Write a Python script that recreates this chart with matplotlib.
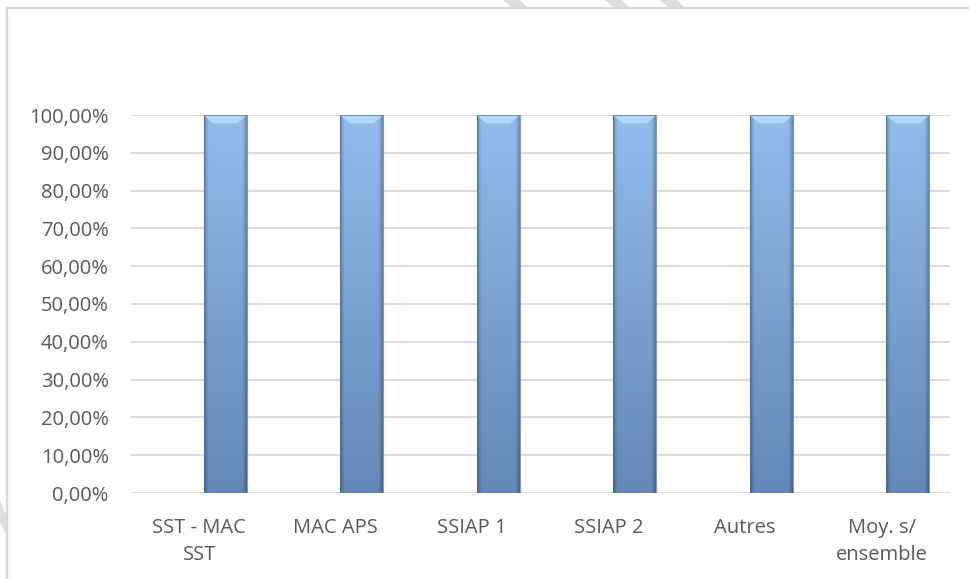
import matplotlib
matplotlib.use("Agg")
import matplotlib.pyplot as plt
import numpy as np
from matplotlib.patches import Polygon, Rectangle
from matplotlib.lines import Line2D

# data
categories = ["SST - MAC\nSST", "MAC APS", "SSIAP 1", "SSIAP 2", "Autres", "Moy. s/\nensemble"]
values = [1.0, 1.0, 1.0, 1.0, 1.0, 1.0]
y_ticks = [0.0, 0.1, 0.2, 0.3, 0.4, 0.5, 0.6, 0.7, 0.8, 0.9, 1.0]

W, H = 969, 579
plt.rcParams['font.family'] = ['Open Sans', 'DejaVu Sans']
txt_color = "#595959"
grid_color = "#d9d9d9"

fig = plt.figure(figsize=(W / 100, H / 100), dpi=100)
ax = fig.add_axes([131 / W, 1 - 493 / H, (950 - 131) / W, (493 - 115) / H])

# grid lines
for t in y_ticks:
    ax.axhline(t, color=grid_color, lw=1.3, zorder=1)

bar_w = 0.315
offset = 0.19
x = np.arange(len(categories))

# vertical gradient with darker edges
top_c = np.array([0.57, 0.74, 0.93])
bot_c = np.array([0.39, 0.53, 0.72])
ny, nx = 200, 60
v = np.linspace(0, 1, ny)[:, None]
hx = np.linspace(-1, 1, nx)[None, :]
edge = np.clip((np.abs(hx) - 0.8) / 0.2, 0, 1)
img = np.zeros((ny, nx, 3))
for k in range(3):
    base = bot_c[k] + (top_c[k] - bot_c[k]) * v
    img[:, :, k] = base * (1 - 0.25 * edge)

bars = ax.bar(x + offset, values, width=bar_w, color="none", edgecolor="none", zorder=2)
for b in bars:
    x0, w, h = b.get_x(), b.get_width(), b.get_height()
    im = ax.imshow(img, extent=[x0, x0 + w, 0, h], origin="lower", aspect="auto", zorder=3)
    clip = Rectangle((x0, 0), w, h, transform=ax.transData)
    im.set_clip_path(clip)
    # top bevel
    bev = 0.022
    ax.add_patch(Polygon([[x0, h], [x0 + w, h], [x0 + w - w * 0.22, h - bev], [x0 + w * 0.22, h - bev]],
                         closed=True, facecolor="#b5d8f7", edgecolor="none", zorder=4))
    ax.add_patch(Rectangle((x0, 0), w, h, facecolor="none", edgecolor="#4f6f99", lw=0.8, alpha=0.7, zorder=5))

ax.set_xlim(-0.5, len(categories) - 0.5)
ax.set_ylim(0, 1.0)
ax.set_yticks(y_ticks)
ax.set_yticklabels([f"{t * 100:.2f}%".replace(".", ",") for t in y_ticks])
ax.set_xticks(x)
ax.set_xticklabels(categories, linespacing=1.45)
ax.tick_params(axis="both", length=0, colors=txt_color, labelsize=14.5)
ax.tick_params(axis="y", pad=16)
ax.tick_params(axis="x", pad=18)
for s in ax.spines.values():
    s.set_visible(False)
ax.set_facecolor("none")

# frame
fig.add_artist(Line2D([7 / W, 7 / W], [0, 1 - 8 / H], color=grid_color, lw=1.6, transform=fig.transFigure))
fig.add_artist(Line2D([7 / W, 1], [1 - 8 / H, 1 - 8 / H], color=grid_color, lw=1.6, transform=fig.transFigure))

# faint watermark pieces outside the frame
def px_poly(pts):
    return Polygon([[px / W, 1 - py / H] for px, py in pts], closed=True,
                   facecolor="#dedede", edgecolor="none", transform=fig.transFigure)

for x0 in [503, 605, 660]:
    fig.add_artist(px_poly([(x0, 0), (x0 + 17, 0), (x0 + 24, 7), (x0 + 8, 7)]))
fig.add_artist(px_poly([(0, 500), (6, 515), (6, 535), (0, 522)]))

fig.savefig("out.png", dpi=100)
